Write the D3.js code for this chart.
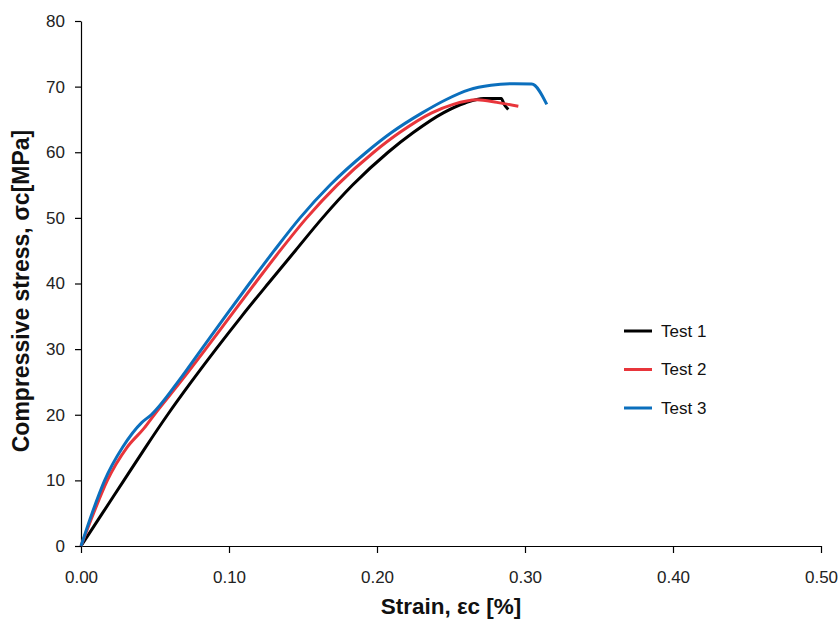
<!DOCTYPE html>
<html>
<head>
<meta charset="utf-8">
<script src="https://cdn.jsdelivr.net/npm/d3@7"></script>
<style>
  html, body { margin: 0; padding: 0; background: #fff; }
  svg { display: block; font-family: "Liberation Sans", Arial, sans-serif; }
</style>
</head>
<body>
<svg id="chart" width="838" height="624"></svg>
<script>
// ---- data (strain %, stress MPa) ----
const seriesNames = ["Test 1", "Test 2", "Test 3"];
const seriesColors = ["#000000", "#E8353B", "#0B6FBD"];

const test1Strain = [0, 0.0145, 0.029, 0.0435, 0.0585, 0.0745, 0.0912, 0.1085, 0.1265, 0.1448, 0.1632, 0.1835, 0.2075, 0.2245, 0.2448, 0.2595, 0.272, 0.284, 0.2857, 0.2887];
const test1Stress = [0, 5, 10, 15, 20, 25, 30, 35, 40, 45, 50, 55, 60, 63, 66, 67.5, 68.2, 68.2, 67.4, 66.5];

const test2Strain = [0, 0.0085, 0.0178, 0.031, 0.0428, 0.0495, 0.0672, 0.0842, 0.1008, 0.1175, 0.1345, 0.1525, 0.1731, 0.1978, 0.2153, 0.237, 0.2515, 0.2675, 0.281, 0.2955];
const test2Stress = [0, 5, 10, 15, 18, 20, 25, 30, 35, 40, 45, 50, 55, 60, 63, 66, 67.3, 68.0, 67.6, 67.0];

const test3Strain = [0, 0.0075, 0.016, 0.028, 0.041, 0.0475, 0.0655, 0.0815, 0.0975, 0.1138, 0.1305, 0.148, 0.1683, 0.1928, 0.2098, 0.2305, 0.2465, 0.262, 0.277, 0.293, 0.3045, 0.3147];
const test3Stress = [0, 5, 10, 15, 18.8, 20, 25, 30, 35, 40, 45, 50, 55, 60, 63, 66, 68, 69.5, 70.2, 70.45, 70.4, 67.3];

const xTicks = [0, 0.1, 0.2, 0.3, 0.4, 0.5];
const yTicks = [0, 10, 20, 30, 40, 50, 60, 70, 80];
const xTitle = "Strain, εc [%]";
const yTitle = "Compressive stress, σc[MPa]";

// ---- layout ----
const svg = d3.select("#chart");
const mLeft = 81, mRight = 821, mTop = 21, mBottom = 546;

const x = d3.scaleLinear().domain([0, 0.5]).range([mLeft, mRight]);
const y = d3.scaleLinear().domain([0, 80]).range([mBottom, mTop]);

// axes
const xAxis = d3.axisBottom(x).tickValues(xTicks).tickFormat(d3.format(".2f")).tickSize(7).tickPadding(18).tickSizeOuter(0);
const yAxis = d3.axisLeft(y).tickValues(yTicks).tickFormat(d3.format("d")).tickSize(6).tickPadding(10).tickSizeOuter(0);

const gx = svg.append("g").attr("transform", `translate(0,${mBottom})`).call(xAxis);
const gy = svg.append("g").attr("transform", `translate(${mLeft},0)`).call(yAxis);

[gx, gy].forEach(g => {
  g.selectAll(".domain").attr("stroke", "#000").attr("stroke-width", 1.2);
  g.selectAll(".tick line").attr("stroke", "#000").attr("stroke-width", 1.2);
  g.selectAll(".tick text").attr("fill", "#222").style("font-size", "17px")
    .style("font-family", "'Liberation Sans', Arial, sans-serif");
});

// series
const series = [
  {name: seriesNames[0], color: seriesColors[0], xs: test1Strain, ys: test1Stress},
  {name: seriesNames[1], color: seriesColors[1], xs: test2Strain, ys: test2Stress},
  {name: seriesNames[2], color: seriesColors[2], xs: test3Strain, ys: test3Stress}
];

const line = d3.line().x(d => x(d[0])).y(d => y(d[1])).curve(d3.curveMonotoneX);

series.forEach(s => {
  const pts = s.xs.map((v, i) => [v, s.ys[i]]);
  svg.append("path")
    .datum(pts)
    .attr("d", line)
    .attr("fill", "none")
    .attr("stroke", s.color)
    .attr("stroke-width", 3)
    .attr("stroke-linejoin", "round");
});

// legend
const legend = svg.append("g").attr("transform", "translate(624,331)");
series.forEach((s, i) => {
  const g = legend.append("g").attr("transform", `translate(0,${i * 38.5})`);
  g.append("line").attr("x1", 0).attr("x2", 28).attr("y1", 0).attr("y2", 0)
    .attr("stroke", s.color).attr("stroke-width", 3);
  g.append("text").attr("x", 37).attr("y", 0).attr("dy", "0.35em")
    .style("font-size", "17px").attr("fill", "#111").text(s.name);
});

// titles
svg.append("text")
  .attr("x", (mLeft + mRight) / 2).attr("y", 614)
  .attr("text-anchor", "middle")
  .style("font-size", "22.5px").style("font-weight", "bold").attr("fill", "#111")
  .text(xTitle);

svg.append("text")
  .attr("transform", "translate(29,291) rotate(-90)")
  .attr("text-anchor", "middle")
  .style("font-size", "23px").style("font-weight", "bold").attr("fill", "#111")
  .text(yTitle);
</script>
</body>
</html>
